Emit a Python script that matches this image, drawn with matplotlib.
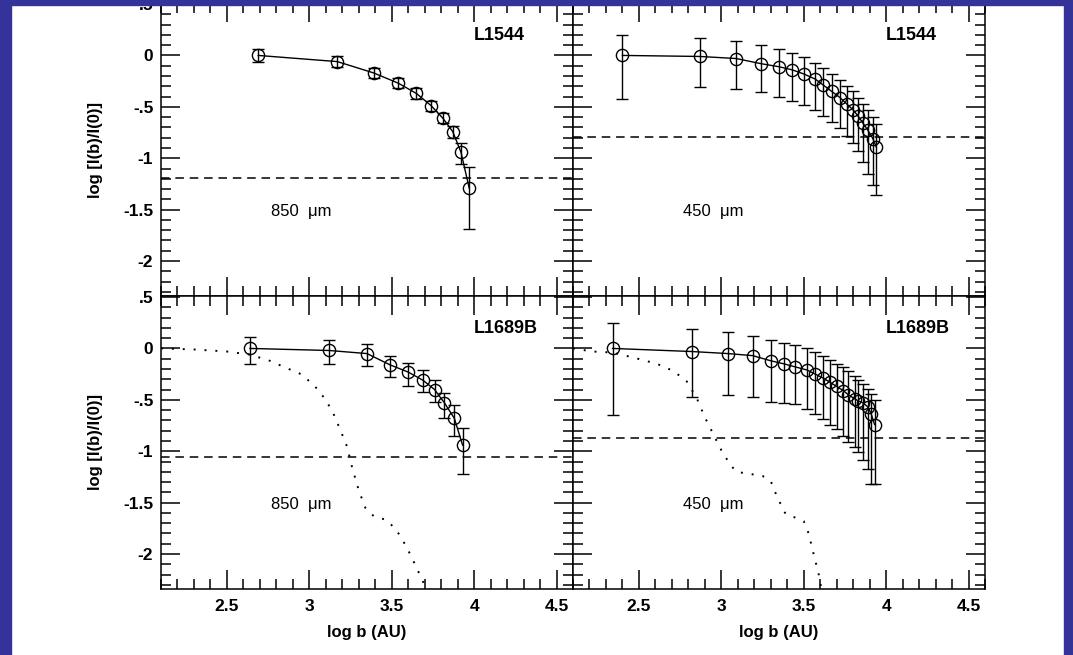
import matplotlib
matplotlib.use('Agg')
import matplotlib.pyplot as plt
from matplotlib.patches import Rectangle
from matplotlib.ticker import MultipleLocator, FuncFormatter

plt.rcParams['font.family'] = ['Liberation Sans', 'DejaVu Sans']

# L1544, 850 um
tl_x = [2.69, 3.17, 3.39, 3.54, 3.65, 3.74, 3.81, 3.87, 3.92, 3.97]
tl_y = [0.0, -0.06, -0.17, -0.27, -0.37, -0.49, -0.61, -0.74, -0.94, -1.29]
tl_lo = [0.06, 0.05, 0.05, 0.05, 0.05, 0.05, 0.05, 0.06, 0.12, 0.40]
tl_hi = [0.06, 0.05, 0.05, 0.05, 0.05, 0.05, 0.05, 0.05, 0.09, 0.20]
tl_cut = -1.19

# L1544, 450 um
tr_x = [2.40, 2.87, 3.09, 3.24, 3.35, 3.43, 3.50, 3.57, 3.62, 3.67, 3.72, 3.76,
        3.80, 3.83, 3.86, 3.89, 3.92, 3.94]
tr_y = [0.0, -0.01, -0.03, -0.08, -0.11, -0.14, -0.18, -0.23, -0.29, -0.35, -0.41,
        -0.47, -0.53, -0.59, -0.66, -0.73, -0.81, -0.89]
tr_lo = [0.42, 0.30, 0.30, 0.28, 0.29, 0.30, 0.30, 0.30, 0.30, 0.30, 0.30, 0.31,
         0.32, 0.34, 0.38, 0.42, 0.45, 0.47]
tr_hi = [0.20, 0.18, 0.17, 0.18, 0.17, 0.16, 0.16, 0.16, 0.17, 0.17, 0.17, 0.17,
         0.18, 0.18, 0.19, 0.20, 0.21, 0.22]
tr_cut = -0.79

# L1689B, 850 um
bl_x = [2.64, 3.12, 3.35, 3.49, 3.60, 3.69, 3.76, 3.82, 3.88, 3.93]
bl_y = [0.0, -0.02, -0.05, -0.16, -0.23, -0.31, -0.40, -0.53, -0.68, -0.94]
bl_lo = [0.15, 0.13, 0.12, 0.12, 0.14, 0.11, 0.12, 0.15, 0.17, 0.28]
bl_hi = [0.11, 0.10, 0.09, 0.09, 0.09, 0.10, 0.09, 0.10, 0.13, 0.17]
bl_cut = -1.06
bl_mx = [2.10, 2.30, 2.50, 2.64, 2.76, 2.86, 2.95, 3.03, 3.09, 3.14, 3.19, 3.23,
         3.26, 3.30, 3.34, 3.39, 3.47, 3.53, 3.59, 3.65, 3.69, 3.71, 3.75]
bl_my = [0.0, -0.01, -0.03, -0.06, -0.12, -0.19, -0.25, -0.36, -0.48, -0.61, -0.80,
         -0.96, -1.16, -1.38, -1.55, -1.63, -1.67, -1.77, -1.93, -2.13, -2.27, -2.33, -2.36]

# L1689B, 450 um
br_x = [2.34, 2.82, 3.04, 3.19, 3.30, 3.38, 3.45, 3.52, 3.57, 3.62, 3.66, 3.70,
        3.74, 3.77, 3.81, 3.83, 3.86, 3.89, 3.91, 3.93]
br_y = [0.0, -0.03, -0.05, -0.07, -0.12, -0.15, -0.18, -0.21, -0.25, -0.29, -0.33,
        -0.37, -0.41, -0.45, -0.49, -0.51, -0.53, -0.57, -0.64, -0.74]
br_lo = [0.65, 0.44, 0.40, 0.40, 0.40, 0.38, 0.36, 0.38, 0.39, 0.40, 0.41, 0.41,
         0.44, 0.46, 0.47, 0.50, 0.56, 0.60, 0.68, 0.58]
br_hi = [0.25, 0.22, 0.21, 0.19, 0.20, 0.20, 0.21, 0.21, 0.22, 0.22, 0.22, 0.22,
         0.23, 0.23, 0.22, 0.20, 0.18, 0.18, 0.20, 0.24]
br_cut = -0.87
br_mx = [2.10, 2.22, 2.34, 2.47, 2.61, 2.71, 2.79, 2.85, 2.90, 2.95, 3.00, 3.05,
         3.09, 3.17, 3.25, 3.30, 3.34, 3.39, 3.44, 3.50, 3.53, 3.56, 3.59, 3.61]
br_my = [0.0, -0.03, -0.04, -0.09, -0.15, -0.22, -0.32, -0.48, -0.67, -0.83, -0.99,
         -1.12, -1.20, -1.22, -1.24, -1.29, -1.45, -1.61, -1.64, -1.68, -1.80, -2.00,
         -2.19, -2.36]


def idl_fmt(v, pos):
    s = ('%.1f' % v).rstrip('0').rstrip('.')
    if s in ('-0', ''):
        s = '0'
    s = s.replace('0.', '.')
    return s


fig = plt.figure(figsize=(10.73, 6.55), dpi=100)
W, H = 1073.0, 655.0
lx, rx, pw = 161 / W, 573 / W, 412 / W
by, ty, ph = (H - 589) / H, (H - 296) / H, 293 / H

panels = [
    (lx, ty, tl_x, tl_y, tl_lo, tl_hi, tl_cut, None, None, 'L1544', '850  \u03bcm'),
    (rx, ty, tr_x, tr_y, tr_lo, tr_hi, tr_cut, None, None, 'L1544', '450  \u03bcm'),
    (lx, by, bl_x, bl_y, bl_lo, bl_hi, bl_cut, bl_mx, bl_my, 'L1689B', '850  \u03bcm'),
    (rx, by, br_x, br_y, br_lo, br_hi, br_cut, br_mx, br_my, 'L1689B', '450  \u03bcm'),
]

for i, (x0, y0, x, y, lo, hi, cut, mx, my, name, wl) in enumerate(panels):
    ax = fig.add_axes([x0, y0, pw, ph])
    ax.set_xlim(2.1, 4.6)
    ax.set_ylim(-2.34, 0.51)

    ax.plot(x, y, '-', color='k', lw=1.0)
    ax.errorbar(x, y, yerr=[lo, hi], fmt='o', ms=8.8, mfc='none', mec='k', mew=1.0,
                ecolor='k', elinewidth=1.0, capsize=4.5, capthick=1.0)
    ax.axhline(cut, color='k', lw=1.1, ls=(0, (5.6, 3.8)))
    if mx is not None:
        ax.plot(mx, my, color='k', lw=1.4, ls=(0, (1.0, 4.6)))

    ax.text(4.0, 0.19, name, fontsize=13, fontweight='bold', ha='left', va='center')
    ax.text(2.77, -1.52, wl, fontsize=12, ha='left', va='center')

    ax.xaxis.set_major_locator(MultipleLocator(0.5))
    ax.xaxis.set_minor_locator(MultipleLocator(0.1))
    ax.yaxis.set_major_locator(MultipleLocator(0.5))
    ax.yaxis.set_minor_locator(MultipleLocator(0.1))
    ax.xaxis.set_major_formatter(FuncFormatter(idl_fmt))
    ax.yaxis.set_major_formatter(FuncFormatter(idl_fmt))
    ax.tick_params(which='both', direction='in', top=True, right=True, width=1.1)
    ax.tick_params(which='major', length=13.5)
    ax.tick_params(which='minor', length=7.2)
    ax.tick_params(axis='x', pad=7.5)
    ax.tick_params(axis='y', pad=5.5)
    for lab in ax.get_xticklabels() + ax.get_yticklabels():
        lab.set_fontweight('bold')
        lab.set_fontsize(12.5)
    for sp in ax.spines.values():
        sp.set_linewidth(1.1)

    if i < 2:
        ax.tick_params(labelbottom=False)
    else:
        ax.set_xlabel('log b (AU)', fontsize=12, fontweight='bold')
        ax.xaxis.set_label_coords(0.5, -0.123)
    if i % 2 == 1:
        ax.tick_params(labelleft=False)
    else:
        ax.set_ylabel('log [I(b)/I(0)]', fontsize=12, fontweight='bold')
        ax.yaxis.set_label_coords(-0.141, 0.5)

# blue slide frame
blue = '#343399'
fig.add_artist(Rectangle((0, 0), 11 / W, 1, transform=fig.transFigure,
                         color=blue, zorder=10))
fig.add_artist(Rectangle((0, 1 - 5 / H), 1, 5 / H, transform=fig.transFigure,
                         color=blue, zorder=10))
fig.add_artist(Rectangle((1 - 9 / W, 0), 9 / W, 1, transform=fig.transFigure,
                         color=blue, zorder=10))

fig.savefig('out.png', dpi=100)
